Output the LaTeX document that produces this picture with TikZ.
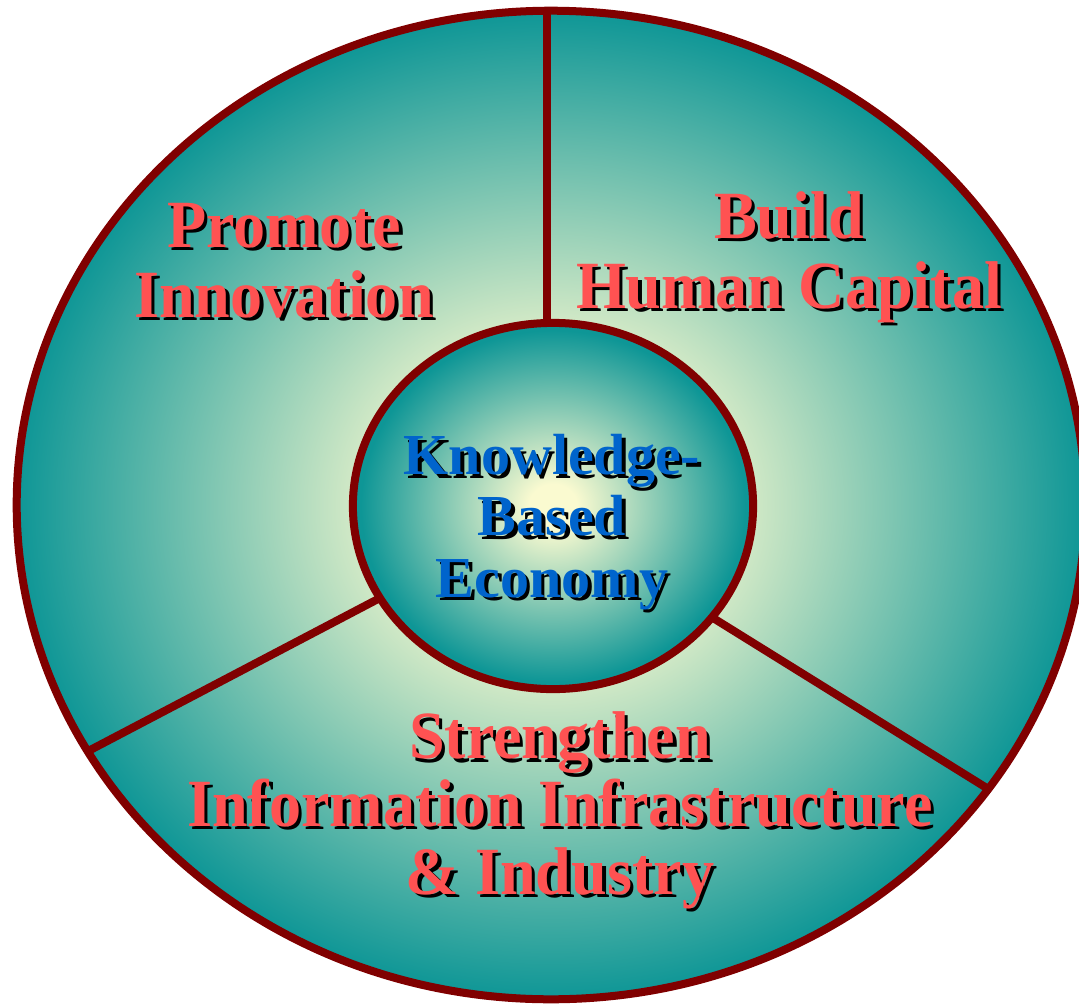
\documentclass[tikz,border=0pt]{standalone}
\usepackage{fontspec}
\setmainfont{Liberation Serif}
\newfontfamily\goalfont{Liberation Serif}[FakeStretch=0.95]
\usetikzlibrary{shapes.geometric}
\definecolor{rimred}{RGB}{128,0,0}
\definecolor{tealc}{RGB}{14,150,150}
\definecolor{creamc}{RGB}{250,250,208}
\definecolor{salmon}{RGB}{255,82,82}
\definecolor{kbblue}{RGB}{0,100,204}
\pgfdeclareradialshading{outerglow}{\pgfpoint{0bp}{0bp}}{color(0bp)=(creamc); color(6bp)=(creamc); color(25bp)=(tealc); color(50bp)=(tealc)}
\pgfdeclareradialshading{innerglow}{\pgfpoint{0bp}{0bp}}{color(0bp)=(creamc); color(3bp)=(creamc); color(24bp)=(tealc); color(50bp)=(tealc)}
\newcommand\shl[1]{\leavevmode\rlap{\kern0.035cm\raisebox{-0.035cm}{\color{black}#1}}#1}
\begin{document}
\begin{tikzpicture}[x=0.01cm,y=-0.01cm,
  rimline/.style={draw=rimred, line width=0.08cm},
  ring/.style={ellipse, rimline, shade, inner sep=0pt, outer sep=0pt},
  goal/.style={text=salmon, font=\goalfont\bfseries\fontsize{19.2pt}{19.9pt}\selectfont, align=center, anchor=base, inner sep=0pt},
  hub/.style={text=kbblue, font=\bfseries\fontsize{16.5pt}{17.4pt}\selectfont, align=center, anchor=base, inner sep=0pt}]
\useasboundingbox (0,0) rectangle (1079,1003);
\node[ring, shading=outerglow, minimum width=10.68cm, minimum height=9.88cm] (wheel) at (551,505) {};
\node[ring, shading=innerglow, minimum width=4.00cm, minimum height=3.66cm] (core) at (553,506) {};
\draw[rimline] (core.92) -- (core.92 |- wheel.north);
\draw[rimline] (core.208) -- (wheel.208.6);
\draw[rimline] (core.-35.6) -- (wheel.-33.75);
\node[goal] (innov) at (284,317) {\shl{Promote}\\\shl{Innovation}};
\node[goal] (human) at (789,308) {\shl{Build}\\\shl{Human Capital}};
\node[goal, font=\goalfont\bfseries\fontsize{19.2pt}{19.2pt}\selectfont] (infra) at (560,894) {\shl{Strengthen}\\\shl{Information Infrastructure}\\\shl{\& Industry}};
\node[hub] (kbe) at (552,597) {\shl{Knowledge-}\\\shl{Based}\\\shl{Economy}};
\end{tikzpicture}
\end{document}
